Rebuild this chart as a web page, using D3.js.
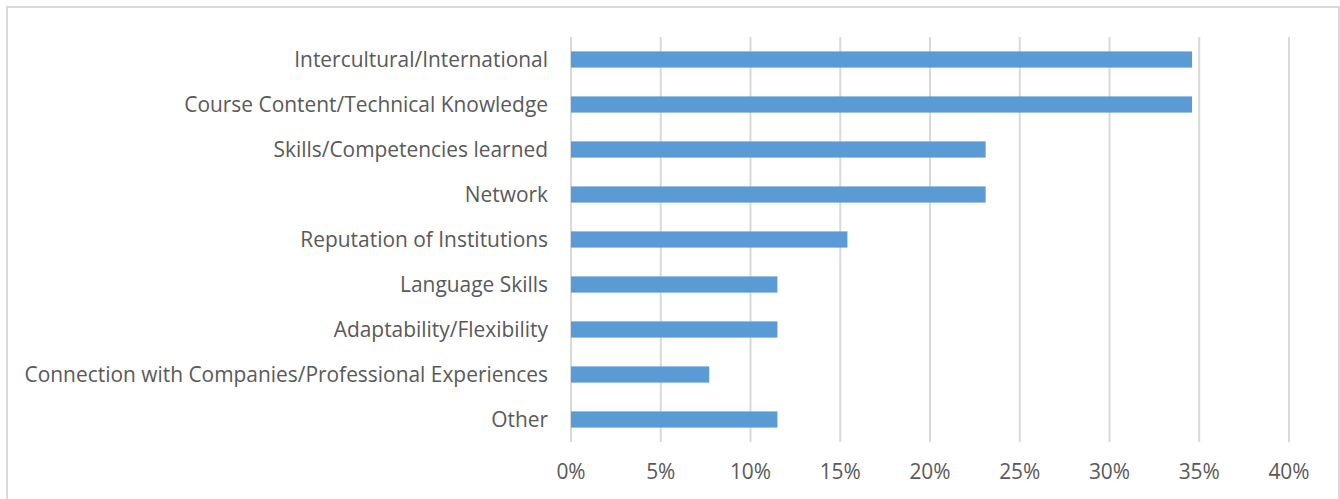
<!DOCTYPE html>
<html><head><meta charset="utf-8">
<script src="https://cdn.jsdelivr.net/npm/d3@7"></script>
<style>body{margin:0;background:#fff;}svg{display:block;}</style>
</head><body>
<script>
const categories = ["Intercultural/International","Course Content/Technical Knowledge","Skills/Competencies learned","Network","Reputation of Institutions","Language Skills","Adaptability/Flexibility","Connection with Companies/Professional Experiences","Other"];
const values = [0.346,0.346,0.231,0.231,0.154,0.115,0.115,0.077,0.115];
const tickValues = [0,0.05,0.10,0.15,0.20,0.25,0.30,0.35,0.40];

const W=1340,H=499;
const svg=d3.select("body").append("svg").attr("width",W).attr("height",H);
svg.append("rect").attr("x",7).attr("y",7).attr("width",1332).attr("height",500)
  .attr("fill","#fff").attr("stroke","#d9d9d9").attr("stroke-width",2);

const x=d3.scaleLinear().domain([0,0.4]).range([571,1289]);
const y=d3.scaleBand().domain(categories).range([37,442]).paddingInner(0.64).paddingOuter(0.32);
const font="'Open Sans', sans-serif";

// fit font size so longest label spans ~524px
const probe=svg.append("text").attr("font-family",font).attr("font-size",20).text(categories[7]);
const w20=probe.node().getComputedTextLength(); probe.remove();
const fs=Math.min(21,20*524/w20);

svg.append("g").selectAll("line").data(tickValues).join("line")
  .attr("x1",d=>x(d)).attr("x2",d=>x(d)).attr("y1",37).attr("y2",442)
  .attr("stroke","#d9d9d9").attr("stroke-width",2);

svg.append("g").selectAll("rect").data(categories).join("rect")
  .attr("x",x(0)).attr("y",d=>y(d)).attr("height",y.bandwidth())
  .attr("width",(d,i)=>x(values[i])-x(0)).attr("fill","#5b9bd5");

svg.append("g").selectAll("text").data(categories).join("text")
  .attr("x",548).attr("y",d=>y(d)+y.bandwidth()/2).attr("dy","0.35em")
  .attr("text-anchor","end").attr("font-family",font).attr("font-size",fs)
  .attr("fill","#595959").text(d=>d);

const fmt=d3.format(".0%");
svg.append("g").selectAll("text").data(tickValues).join("text")
  .attr("x",d=>x(d)).attr("y",479).attr("text-anchor","middle")
  .attr("font-family",font).attr("font-size",fs).attr("fill","#595959").text(d=>fmt(d));
</script>
</body></html>
